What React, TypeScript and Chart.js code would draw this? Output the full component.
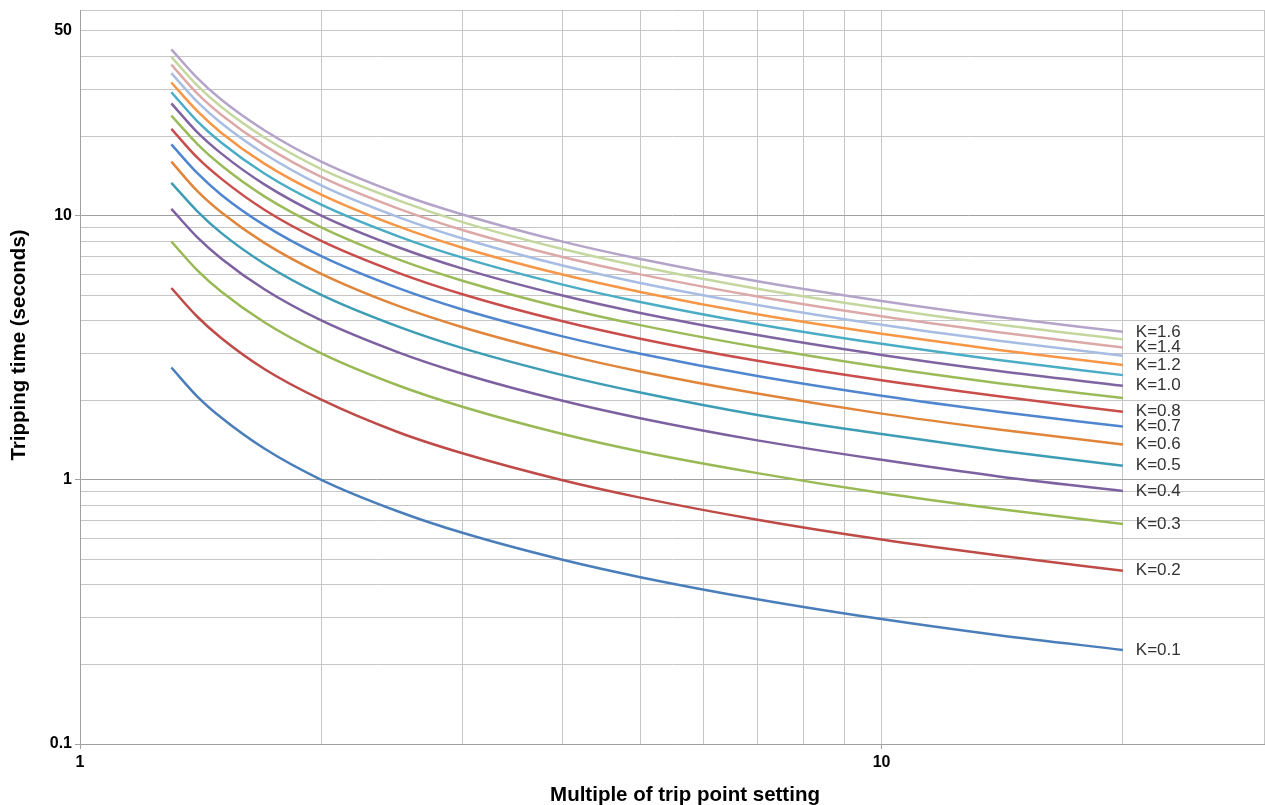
import React, { useEffect, useRef } from "react";
import { Chart, registerables } from "chart.js";

Chart.register(...registerables);

// Multiple of trip point setting (x values)
const multiples = [1.3, 1.4, 1.5, 1.7, 2, 2.5, 3, 4, 5, 7, 10, 14, 20];

// Tripping time (seconds) per K setting
const k01 = [2.66, 2.07, 1.72, 1.31, 1.0, 0.757, 0.63, 0.498, 0.428, 0.353, 0.297, 0.258, 0.227];
const k02 = [5.32, 4.15, 3.44, 2.62, 2.01, 1.51, 1.26, 0.996, 0.856, 0.706, 0.594, 0.517, 0.453];
const k03 = [7.98, 6.22, 5.16, 3.94, 3.01, 2.27, 1.89, 1.49, 1.28, 1.06, 0.891, 0.775, 0.68];
const k04 = [10.6, 8.29, 6.88, 5.25, 4.01, 3.03, 2.52, 1.99, 1.71, 1.41, 1.19, 1.03, 0.907];
const k05 = [13.3, 10.4, 8.6, 6.56, 5.01, 3.79, 3.15, 2.49, 2.14, 1.76, 1.49, 1.29, 1.13];
const k06 = [16.0, 12.4, 10.3, 7.87, 6.02, 4.54, 3.78, 2.99, 2.57, 2.12, 1.78, 1.55, 1.36];
const k07 = [18.6, 14.5, 12.0, 9.18, 7.02, 5.3, 4.41, 3.49, 3.0, 2.47, 2.08, 1.81, 1.59];
const k08 = [21.3, 16.6, 13.8, 10.5, 8.02, 6.06, 5.04, 3.98, 3.42, 2.82, 2.38, 2.07, 1.81];
const k09 = [23.9, 18.7, 15.5, 11.8, 9.03, 6.81, 5.67, 4.48, 3.85, 3.18, 2.67, 2.32, 2.04];
const k10 = [26.6, 20.7, 17.2, 13.1, 10.0, 7.57, 6.3, 4.98, 4.28, 3.53, 2.97, 2.58, 2.27];
const k11 = [29.3, 22.8, 18.9, 14.4, 11.0, 8.33, 6.93, 5.48, 4.71, 3.88, 3.27, 2.84, 2.49];
const k12 = [31.9, 24.9, 20.6, 15.7, 12.0, 9.08, 7.56, 5.98, 5.14, 4.23, 3.57, 3.1, 2.72];
const k13 = [34.6, 27.0, 22.4, 17.1, 13.0, 9.84, 8.19, 6.47, 5.56, 4.59, 3.86, 3.36, 2.95];
const k14 = [37.3, 29.0, 24.1, 18.4, 14.0, 10.6, 8.82, 6.97, 5.99, 4.94, 4.16, 3.62, 3.17];
const k15 = [39.9, 31.1, 25.8, 19.7, 15.0, 11.4, 9.45, 7.47, 6.42, 5.29, 4.46, 3.87, 3.4];
const k16 = [42.6, 33.2, 27.5, 21.0, 16.0, 12.1, 10.1, 7.97, 6.85, 5.64, 4.75, 4.13, 3.63];

const seriesValues = [k01, k02, k03, k04, k05, k06, k07, k08, k09, k10, k11, k12, k13, k14, k15, k16];
const seriesNames = ["K=0.1", "K=0.2", "K=0.3", "K=0.4", "K=0.5", "K=0.6", "K=0.7", "K=0.8",
  "K=0.9", "K=1.0", "K=1.1", "K=1.2", "K=1.3", "K=1.4", "K=1.5", "K=1.6"];
const labelledSeries = ["K=0.1", "K=0.2", "K=0.3", "K=0.4", "K=0.5", "K=0.6", "K=0.7", "K=0.8",
  "K=1.0", "K=1.2", "K=1.4", "K=1.6"];
const seriesColors = ["#4a7ebb", "#be4b48", "#98b954", "#7d60a0", "#3d9db5", "#e0853a", "#4f86cf", "#c84d4b",
  "#9bbb59", "#8064a2", "#4bacc6", "#f79646", "#a7bde3", "#dca9a8", "#c4d79e", "#b4a4c9"];

const xGridValues = [1, 2, 3, 4, 5, 6, 7, 8, 9, 10, 20, 30];
const xTickLabels = [1, 10];
const yGridValues = [0.1, 0.2, 0.3, 0.4, 0.5, 0.6, 0.7, 0.8, 0.9, 1, 2, 3, 4, 5, 6, 7, 8, 9, 10, 20, 30, 40, 50, 60];
const yTickLabels = [0.1, 1, 10, 50];
const decadeValues = [0.1, 1, 10];

const FONT = "'Liberation Sans', Arial, sans-serif";

const same = (a: number, b: number) => Math.abs(a - b) < 1e-9 * Math.max(1, Math.abs(b));

export default function App() {
  const ref = useRef<HTMLCanvasElement | null>(null);

  useEffect(() => {
    if (!ref.current) return;

    const labelPlugin = {
      id: "kLabels",
      afterDatasetsDraw(chart: any) {
        const ctx = chart.ctx;
        ctx.save();
        ctx.font = "17px " + FONT;
        ctx.fillStyle = "#333333";
        ctx.textBaseline = "middle";
        ctx.textAlign = "left";
        chart.data.datasets.forEach((ds: any, i: number) => {
          if (!labelledSeries.includes(ds.label)) return;
          const meta = chart.getDatasetMeta(i);
          const pt = meta.data[meta.data.length - 1];
          ctx.fillText(ds.label, pt.x + 13, pt.y);
        });
        ctx.restore();
      },
      afterDraw(chart: any) {
        const ctx = chart.ctx;
        const xs = chart.scales.x;
        const ys = chart.scales.y;
        ctx.save();
        ctx.font = "bold 20.5px " + FONT;
        ctx.fillStyle = "#000000";
        ctx.textAlign = "center";
        ctx.textBaseline = "middle";
        ctx.fillText("Multiple of trip point setting", (xs.left + xs.right) / 2 + 13, chart.height - 10);
        ctx.translate(19, (ys.top + ys.bottom) / 2 - 32);
        ctx.rotate(-Math.PI / 2);
        ctx.fillText("Tripping time (seconds)", 0, 0);
        ctx.restore();
      },
    };

    const chart = new Chart(ref.current, {
      type: "line",
      data: {
        datasets: seriesValues.map((vals, i) => ({
          label: seriesNames[i],
          data: vals.map((v, j) => ({ x: multiples[j], y: v })),
          borderColor: seriesColors[i],
          backgroundColor: seriesColors[i],
          borderWidth: 2.5,
          pointRadius: 0,
          fill: false,
          cubicInterpolationMode: "monotone" as const,
        })),
      },
      options: {
        animation: false,
        responsive: true,
        maintainAspectRatio: false,
        layout: { padding: { top: 10, right: 1, left: 0, bottom: 0 } },
        plugins: {
          legend: { display: false },
          tooltip: { enabled: false },
        },
        scales: {
          x: {
            type: "logarithmic",
            min: 1,
            max: 30,
            afterBuildTicks: (scale: any) => {
              scale.ticks = xGridValues.map((v) => ({ value: v }));
            },
            afterFit: (scale: any) => {
              scale.height = 61;
              scale.paddingLeft = 0;
              scale.paddingRight = 0;
            },
            ticks: {
              autoSkip: false,
              maxRotation: 0,
              padding: 4,
              color: "#000000",
              font: { family: FONT, size: 16, weight: "bold" },
              callback: (v: any) => (xTickLabels.some((t) => same(t, Number(v))) ? String(v) : ""),
            },
            grid: {
              color: "#c6c6c6",
              lineWidth: 1,
              tickLength: 5,
              tickColor: (ctx: any) =>
                ctx.tick && xTickLabels.some((t) => same(t, ctx.tick.value)) ? "#a0a0a0" : "rgba(0,0,0,0)",
            },
            border: { color: "#a0a0a0", width: 1 },
          },
          y: {
            type: "logarithmic",
            min: 0.1,
            max: 60,
            afterBuildTicks: (scale: any) => {
              scale.ticks = yGridValues.map((v) => ({ value: v }));
            },
            afterFit: (scale: any) => {
              scale.width = 80;
              scale.paddingTop = 0;
              scale.paddingBottom = 0;
            },
            ticks: {
              autoSkip: false,
              padding: 3,
              color: "#000000",
              font: { family: FONT, size: 16, weight: "bold" },
              callback: (v: any) => (yTickLabels.some((t) => same(t, Number(v))) ? String(v) : ""),
            },
            grid: {
              color: (ctx: any) =>
                ctx.tick && decadeValues.some((t) => same(t, ctx.tick.value)) ? "#a0a0a0" : "#c6c6c6",
              lineWidth: 1,
              tickLength: 5,
              tickColor: (ctx: any) =>
                ctx.tick && decadeValues.some((t) => same(t, ctx.tick.value)) ? "#a0a0a0" : "rgba(0,0,0,0)",
            },
            border: { color: "#a0a0a0", width: 1 },
          },
        },
      } as any,
      plugins: [labelPlugin],
    });

    return () => chart.destroy();
  }, []);

  return (
    <div style={{ position: "fixed", left: 0, top: 0, width: 1265, height: 805, background: "#ffffff" }}>
      <canvas ref={ref} />
    </div>
  );
}
